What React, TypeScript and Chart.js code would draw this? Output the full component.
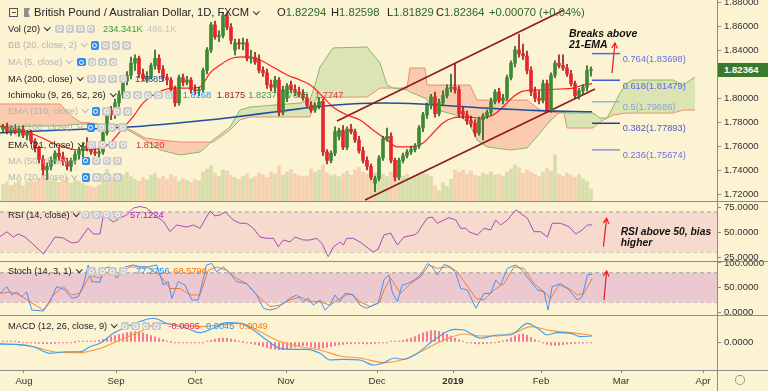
import React, { useEffect, useRef } from 'react';
import { Chart, registerables } from 'chart.js';
Chart.register(...registerables);

const FONT = '"Liberation Sans", Arial, Helvetica, sans-serif';
const BG = '#fcf3d2';
const LINE = '#8c8c8c';

// ---------------- DATA ----------------
const candleOpen = [1.774,1.776,1.772,1.775,1.771,1.774,1.769,1.771,1.764,1.758,
1.749,1.740,1.743,1.748,1.754,1.751,1.747,1.743,1.748,1.753,
1.756,1.760,1.758,1.755,1.754,1.755,1.771,1.790,1.786,1.796,
1.803,1.814,1.819,1.829,1.833,1.820,1.816,1.818,1.827,1.833,
1.824,1.817,1.815,1.807,1.796,1.817,1.813,1.815,1.807,1.806,
1.807,1.823,1.840,1.861,1.851,1.852,1.869,1.859,1.840,1.846,
1.845,1.846,1.833,1.834,1.832,1.823,1.821,1.811,1.809,1.815,
1.788,1.800,1.811,1.807,1.805,1.803,1.800,1.794,1.790,1.794,
1.797,1.755,1.748,1.754,1.768,1.773,1.759,1.774,1.772,1.765,
1.756,1.748,1.743,1.729,1.733,1.750,1.766,1.768,1.748,1.734,
1.748,1.752,1.755,1.757,1.760,1.775,1.786,1.794,1.801,1.787,
1.796,1.802,1.808,1.809,1.807,1.789,1.786,1.781,1.779,1.771,
1.782,1.785,1.788,1.797,1.805,1.798,1.800,1.817,1.829,1.840,
1.837,1.835,1.823,1.805,1.800,1.798,1.812,1.790,1.819,1.829,
1.827,1.825,1.820,1.812,1.802,1.806,1.809,1.82294];
const candleHigh = [1.778,1.779,1.777,1.778,1.776,1.777,1.773,1.773,1.766,1.760,
1.752,1.746,1.751,1.756,1.758,1.755,1.750,1.750,1.756,1.759,
1.763,1.767,1.760,1.758,1.757,1.773,1.792,1.793,1.799,1.806,
1.816,1.822,1.834,1.836,1.835,1.824,1.822,1.829,1.840,1.836,
1.827,1.820,1.817,1.810,1.819,1.820,1.818,1.817,1.811,1.809,
1.825,1.842,1.863,1.864,1.856,1.871,1.871,1.862,1.849,1.849,
1.850,1.849,1.840,1.838,1.836,1.826,1.824,1.815,1.818,1.817,
1.810,1.812,1.814,1.811,1.809,1.807,1.803,1.797,1.796,1.800,
1.799,1.757,1.756,1.776,1.775,1.777,1.776,1.778,1.774,1.768,
1.759,1.751,1.745,1.735,1.752,1.768,1.775,1.771,1.750,1.750,
1.754,1.757,1.760,1.762,1.777,1.788,1.796,1.803,1.805,1.799,
1.806,1.811,1.820,1.828,1.810,1.793,1.789,1.785,1.782,1.784,
1.787,1.790,1.800,1.807,1.808,1.803,1.819,1.831,1.843,1.853,
1.845,1.839,1.826,1.809,1.806,1.815,1.815,1.821,1.831,1.836,
1.836,1.828,1.823,1.814,1.808,1.811,1.827,1.82598];
const candleLow = [1.771,1.770,1.769,1.770,1.768,1.767,1.765,1.762,1.755,1.746,
1.736,1.732,1.740,1.745,1.748,1.744,1.740,1.739,1.745,1.749,
1.751,1.756,1.753,1.752,1.751,1.753,1.769,1.782,1.783,1.793,
1.800,1.811,1.816,1.823,1.817,1.814,1.813,1.816,1.824,1.821,
1.814,1.811,1.804,1.793,1.794,1.810,1.811,1.804,1.803,1.802,
1.805,1.820,1.838,1.849,1.847,1.850,1.857,1.845,1.836,1.841,
1.840,1.831,1.829,1.828,1.821,1.818,1.808,1.806,1.805,1.785,
1.786,1.797,1.805,1.802,1.801,1.798,1.792,1.788,1.788,1.791,
1.752,1.745,1.746,1.752,1.765,1.757,1.757,1.770,1.763,1.754,
1.746,1.740,1.732,1.722,1.731,1.748,1.764,1.746,1.731,1.732,
1.746,1.750,1.753,1.755,1.758,1.772,1.783,1.791,1.784,1.785,
1.794,1.800,1.805,1.804,1.784,1.783,1.778,1.776,1.768,1.769,
1.765,1.783,1.786,1.795,1.796,1.795,1.798,1.815,1.826,1.834,
1.832,1.820,1.802,1.797,1.795,1.796,1.788,1.788,1.817,1.825,
1.823,1.818,1.810,1.800,1.799,1.803,1.806,1.81829];
const candleClose = [1.776,1.772,1.775,1.771,1.774,1.769,1.771,1.764,1.758,1.749,
1.740,1.743,1.748,1.754,1.751,1.747,1.743,1.748,1.753,1.756,
1.760,1.758,1.755,1.754,1.755,1.771,1.790,1.786,1.796,1.803,
1.814,1.819,1.829,1.833,1.820,1.816,1.818,1.827,1.833,1.824,
1.817,1.815,1.807,1.796,1.817,1.813,1.815,1.807,1.806,1.807,
1.823,1.840,1.861,1.851,1.852,1.869,1.859,1.848,1.846,1.845,
1.846,1.833,1.834,1.830,1.823,1.821,1.811,1.809,1.815,1.788,
1.807,1.810,1.807,1.805,1.803,1.800,1.794,1.790,1.794,1.797,
1.755,1.748,1.754,1.772,1.773,1.759,1.774,1.772,1.765,1.756,
1.748,1.743,1.734,1.733,1.750,1.766,1.768,1.748,1.734,1.748,
1.752,1.755,1.757,1.760,1.775,1.786,1.794,1.801,1.787,1.796,
1.802,1.808,1.809,1.807,1.787,1.786,1.781,1.779,1.771,1.782,
1.785,1.788,1.797,1.805,1.798,1.800,1.817,1.829,1.840,1.837,
1.835,1.823,1.805,1.800,1.798,1.812,1.790,1.819,1.829,1.827,
1.825,1.820,1.812,1.802,1.806,1.809,1.8229,1.82364];

const volumeK = [320,380,300,350,410,290,360,420,380,450,520,470,390,430,360,400,460,350,420,380,340,300,280,260,310,
520,610,450,480,430,500,560,470,420,390,460,410,500,530,440,480,420,510,470,380,430,400,360,420,390,
560,620,680,540,480,600,580,500,450,420,480,520,430,470,540,510,460,560,520,680,500,560,610,530,490,
470,480,620,560,600,700,540,490,510,470,530,580,500,600,650,560,520,480,550,600,520,470,560,510,450,
480,520,460,500,540,560,520,480,300,200,350,280,420,600,560,600,520,580,500,470,540,510,560,500,520,
480,560,620,700,650,540,600,560,520,480,560,640,580,900,520,480,540,500,460,520,430,380,234];

const cloudX = [-0.75,9.25,14.25,16.75,19.25,24.25,29.25,32.5,35.5,39.25,44.25,49.25,51,52.5,56.75,59.25,61.75,74.25,76.75,78,79.25,82.5,91,94.25,96,97.5,101,101.75,105.5,106,108.5,114.25,116.75,118.5,121,126.75,131,134.25,137,139.25,140.25,141,147.5,149.25,151,152.5,154.25,156,157.5,167.5,170,173];
const spanA = [1.7758,1.7767,1.7767,1.7775,1.7783,1.7783,1.7775,1.7708,1.765,1.7567,1.7525,1.755,1.76,1.765,1.7758,1.79,1.7925,1.7958,1.7983,1.8108,1.8258,1.8417,1.8425,1.8292,1.8108,1.8083,1.8067,1.805,1.80,1.7983,1.79,1.785,1.7775,1.765,1.7592,1.7567,1.7583,1.7708,1.7817,1.7883,1.7883,1.7875,1.7875,1.7833,1.7833,1.7925,1.8042,1.8125,1.815,1.815,1.8108,1.8175];
const spanB = [1.795,1.795,1.795,1.7858,1.78,1.7783,1.7767,1.7725,1.7667,1.765,1.7633,1.7633,1.7633,1.7633,1.7733,1.7817,1.7842,1.7842,1.7842,1.7983,1.80,1.8008,1.8008,1.8083,1.8083,1.8083,1.8083,1.825,1.825,1.8108,1.8108,1.8108,1.8108,1.7983,1.7983,1.7983,1.7983,1.79,1.7883,1.7875,1.7875,1.775,1.775,1.78,1.7833,1.7858,1.7867,1.7875,1.7875,1.7875,1.79,1.79];

const ema21X = [-0.75,4.25,9.25,14.25,19.25,23.5,26.75,30,32.5,35,38.5,42.5,46.75,49.25,51.75,54.25,57.5,61,64.25,67.5,71,74.25,77.5,80,82.5,86,89.25,92.5,96,98.5,101.75,105,107.5,110,112.5,116,119.25,122.5,125,127.5,130,134.25,139.25,142.5,145,147.25];
const ema21Y = [1.7767,1.7733,1.7675,1.76,1.7567,1.7575,1.7625,1.775,1.7842,1.7958,1.8042,1.8083,1.8083,1.8092,1.8208,1.8275,1.8333,1.8342,1.8317,1.8258,1.8192,1.815,1.8092,1.8008,1.7925,1.7858,1.7817,1.7733,1.765,1.7592,1.7592,1.7625,1.7708,1.7792,1.7833,1.7842,1.7833,1.7858,1.7925,1.8008,1.8058,1.8067,1.8075,1.8083,1.8108,1.812];
const ma200X = [-0.75,16,32.5,49.25,57.5,69.25,82.5,95,104.25,120.25,134.25,147.25];
const ma200Y = [1.771,1.7735,1.776,1.781,1.784,1.789,1.794,1.7958,1.795,1.7917,1.7895,1.7885];

const channelUpperX = [83.5, 140.25];
const channelUpperY = [1.7808, 1.8733];
const channelLowerX = [90.5, 148];
const channelLowerY = [1.715, 1.8075];

const fibRatios = ['0.764', '0.618', '0.5', '0.382', '0.236'];
const fibLevels = [1.83698, 1.81479, 1.79686, 1.77893, 1.75674];
const fibSpan = [147.25, 154.25];

const rsiX = [-0.75,0.9,2.6,3.8,5.5,7.2,10.1,13,15.1,17.2,18.8,21.3,22.6,24.25,25.1,27.6,29.25,30.9,32.6,34.25,35.9,38.4,40.1,41.75,43.4,45.9,47.6,49.25,51.75,53,54.25,55.5,57.6,59.25,60.9,62.6,64.25,65.9,67.6,68.8,70.1,71.75,73,75.1,76.75,78.4,79.7,81.3,82.6,84.25,85.1,85.9,87.6,89.25,90.9,92.6,93.8,95.25,96.9,98.6,100.25,102.75,103.6,104.4,106.1,107.3,108.6,110.25,111.5,113.2,114.4,115.7,116.5,118.6,120.25,121.9,123.2,124.4,126.1,128.2,129.4,131.1,132.75,134.4,136.1,137.3,139.4,141.5,143.2,144.8,146.1,147.3];
const rsiY = [45.3,50.3,45,48,45,39,28,45,44,39,40,54,48,48,67,60,64,67,74,75.5,74,65.5,60.5,50.5,57,55,57,53.7,71,66,67,70,62,58.7,58.7,53.7,45,43.7,43.7,35.3,42,40,45,42,42,43.7,38.7,25.3,35,40,37,43.7,43.7,40,35,30,33,47,49,37,45,47,49,54,64,65,58.7,62,64.3,62,53.7,53.7,50.3,47,53.7,52,62,57,62,72,68.7,63.7,50.3,50.3,45,58.7,58.7,55.3,48,52,57,57.1];

const stochKX = [-0.75,0.9,2.2,3.4,4.7,5.9,7.2,10.1,11.75,13.4,15.5,17.2,18.8,20.1,21.3,22.2,24.25,25.1,26.75,28.4,30.5,32.6,34.25,36.3,38.4,40.1,41.3,42.2,43.8,45.5,47.2,48.8,50.1,50.9,52.2,53.4,55.1,56.75,58.4,60.9,63.4,65.1,66.75,68.4,70.1,71.75,73.4,75.1,76.3,77.6,79.25,80.5,81.75,83,84.25,85.5,87.6,89.25,90.9,92.6,93.8,95.25,96.5,97.3,98.6,99.8,101.1,102.75,104.4,106.1,107.3,108.6,110.25,111.9,113.2,114.4,116.1,118.2,120.25,121.9,123.2,124.4,126.1,128.2,129.8,131.9,133.6,135.25,136.25,137.3,139.4,141.5,143.6,144.8,146.1,147.3];
const stochKY = [38,51.7,34.7,41,31,41,4,2,21,51.7,45,28,31,55,96,62,61,89,92,69,92,96,92,92,96,55,62,28,62,55,24.5,24.5,69,96,99,82,92,79,62,58,34.7,7.5,4,7.5,17.7,28,34.7,21,28,14,24.5,4,14,34.7,21,38,34.7,14,7.5,14,17.7,66,75.5,41,21,55,58,65,75.5,99,92,75.5,97,92,79,48,45,7.5,38,38,65,55,89,96,85,62,45,41,4,51.7,58,45,24.5,31,75.5,77.3];
const stochDX = [-0.75,1.75,4.25,6.75,10.1,12.6,15.1,17.2,19.25,21.75,24.25,26.75,29.25,31.75,35.9,39.25,41.75,44.25,46.75,49.25,51.3,53.4,55.9,58.4,60.9,64.25,66.75,69.25,71.75,74.25,76.75,79.25,81.75,84.25,86.75,89.25,91.75,94.25,95.25,96.9,99.4,101.9,104.4,106.5,108.6,111.1,113.2,115.7,118.2,120.25,122.75,125.25,127.75,130.25,132.75,135.25,136.9,139,141.5,143.6,145.25,147.3];
const stochDY = [38,41,34.7,21,4,34.7,51.7,34.7,38,75,69,85,79,92,92,75,48,48,34.7,34.7,85,92,85,69,58,28,11,14,24.5,31,21,21,14,28,38,21,11,21,45,69,38,58,72,96,89,92,85,58,28,24.5,45,58,92,89,58,41,28,55,48,34.7,38,68.6];

const macdX = [-0.75,3.4,7.6,11.75,15.9,19.25,21.75,24.25,27.6,30.9,34.25,37.6,40.9,45.9,49.25,52.6,55.9,59.25,62.6,65.9,69.25,72.6,75.9,79.25,81.75,85.1,89.25,92.6,95.25,97.75,100.25,103.6,107.75,112.75,115.25,119.4,123.6,126.9,131.1,133.6,136.1,138.6,141.9,144.4,147.3];
const macdY = [-0.0017,-0.0018,-0.0035,-0.0085,-0.0073,-0.0073,-0.0035,-0.001,0.0065,0.0115,0.0153,0.0178,0.014,0.0103,0.007,0.0103,0.0145,0.014,0.009,0.0015,-0.0048,-0.0055,-0.0055,-0.0085,-0.0135,-0.013,-0.0135,-0.0173,-0.0155,-0.012,-0.013,-0.0085,0.0015,0.0095,0.009,0.0028,0.0053,0.0053,0.014,0.0103,0.0053,0.007,0.0065,0.004,0.0045];
const signalX = [-0.75,7.6,12.6,19.25,24.25,29.25,34.25,39.25,44.25,49.25,54.25,59.25,64.25,69.25,74.25,79.25,84.25,89.25,95.25,100.25,105.25,110.25,115.25,119.4,123.6,128.6,131.9,136.9,141.9,147.3];
const signalY = [-0.001,-0.0035,-0.0073,-0.008,-0.0048,0.0015,0.0078,0.014,0.0128,0.0115,0.0128,0.014,0.0078,0.0003,-0.0035,-0.006,-0.0105,-0.012,-0.0155,-0.013,-0.006,0.0015,0.006,0.0045,0.0045,0.0078,0.0115,0.0085,0.007,0.0049];
// histogram, in units of 0.0001
const macdHist4 = [1,1,0.5,0.5,0,-1,
-3,-5,-8,-11,-13,-13,-12,-10,-8,-6,-4,
-2,0,1,2,3,
5,8,12,18,28,38,
48,55,62,70,75,78,75,68,58,48,38,
28,18,8,0,-5,-6,-6,-5,
-5,-4,-3,-1,
5,12,20,27,30,28,22,14,
6,0,-5,-10,-18,
-26,-34,-42,-50,-55,-58,-57,-52,-45,-38,-32,-28,-30,-38,-45,-48,-45,-40,-35,
-28,-22,-18,-15,-12,-10,-10,-12,-14,-13,-10,-8,-5,
-2,1,3,6,12,20,30,
40,55,68,78,85,85,80,70,58,44,30,
16,6,-2,-8,-12,
-14,-12,-10,-8,-5,0,8,
18,32,46,56,60,50,34,
18,4,-8,-18,-24,-26,-24,-20,-16,-12,
-10,-9,-8,-6,-5];

const monthTickPos = [5.25, 28.25, 48, 70.75, 93.5, 112.5, 134.5, 154.5, 175];
const monthTickLabels = ['Aug', 'Sep', 'Oct', 'Nov', 'Dec', '2019', 'Feb', 'Mar', 'Apr'];
const priceTicks = [1.72, 1.74, 1.76, 1.78, 1.8, 1.82, 1.84, 1.86, 1.88];
const rsiTicks = [25, 50, 75];
const stochTicks = [0, 50, 100];
const macdTicks = [0];

// ---------------- helpers ----------------
const X_MIN = -0.75, X_MAX = 178.5;
const pts = (xs: number[], ys: number[]) => xs.map((x, i) => ({ x, y: ys[i] }));
const flat = (v: number) => [{ x: X_MIN, y: v }, { x: X_MAX, y: v }];

function xScale(show: boolean) {
  return {
    type: 'linear', min: X_MIN, max: X_MAX, display: show, offset: false,
    border: { display: false },
    grid: { display: show, offset: false, drawOnChartArea: false, drawTicks: true, tickLength: 3, color: LINE },
    ticks: {
      autoSkip: false, maxRotation: 0, minRotation: 0, padding: 3, color: '#333',
      font: (c: any) => ({ family: FONT, size: 9.6, weight: c.index === 5 ? 'bold' : 'normal' }),
      callback: (v: any) => { const j = monthTickPos.indexOf(Number(v)); return j >= 0 ? monthTickLabels[j] : ''; },
    },
    afterBuildTicks: (s: any) => { s.ticks = monthTickPos.map((v) => ({ value: v })); },
    afterFit: (s: any) => { if (show) { s.height = 21; } s.paddingLeft = 0; s.paddingRight = 0; },
  };
}
function yScale(min: number, max: number, ticks: number[], digits: number) {
  return {
    type: 'linear', position: 'right', min, max,
    border: { display: false },
    grid: { drawOnChartArea: false, drawTicks: true, tickLength: 4, color: LINE },
    ticks: { color: '#333', padding: 3, autoSkip: false, font: { family: FONT, size: 9.6 }, callback: (v: any) => Number(v).toFixed(digits) },
    afterBuildTicks: (s: any) => { s.ticks = ticks.map((v) => ({ value: v })); },
    afterFit: (s: any) => { s.width = 51; s.paddingTop = 0; s.paddingBottom = 0; },
  };
}
const lineDs = (data: any[], color: string, width = 1, extra: any = {}) => ({
  type: 'line', data, borderColor: color, borderWidth: width, pointRadius: 0, fill: false, tension: 0, ...extra,
});

const arrowPlugin = {
  id: 'arrows',
  afterDatasetsDraw(chart: any, _a: any, opts: any) {
    const items = (opts && opts.items) || [];
    const ctx = chart.ctx; const xs = chart.scales.x; const ys = chart.scales.y;
    items.forEach((a: any) => {
      const x1 = xs.getPixelForValue(a.x1), y1 = ys.getPixelForValue(a.y1);
      const x2 = xs.getPixelForValue(a.x2), y2 = ys.getPixelForValue(a.y2);
      ctx.save();
      ctx.strokeStyle = '#f01818'; ctx.lineWidth = 1.2;
      ctx.beginPath(); ctx.moveTo(x1, y1); ctx.lineTo(x2, y2); ctx.stroke();
      const ang = Math.atan2(y2 - y1, x2 - x1); const L = 6;
      ctx.beginPath();
      ctx.moveTo(x2 - L * Math.cos(ang - 0.5), y2 - L * Math.sin(ang - 0.5));
      ctx.lineTo(x2, y2);
      ctx.lineTo(x2 - L * Math.cos(ang + 0.5), y2 - L * Math.sin(ang + 0.5));
      ctx.stroke();
      ctx.restore();
    });
  },
};

function baseOptions(padTop: number, padBottom: number, scales: any, arrows: any[] = []) {
  return {
    responsive: false, animation: false, devicePixelRatio: 1, events: [],
    layout: { padding: { top: padTop, bottom: padBottom, left: 0, right: 0 }, autoPadding: false },
    plugins: { legend: { display: false }, tooltip: { enabled: false }, arrows: { items: arrows } },
    scales,
  };
}

function mainConfig(): any {
  const up = (i: number) => candleClose[i] >= candleOpen[i];
  const fibColors = ['#5668e6', '#4659dc', '#93b4e8', '#2b3a9c', '#8f8fd8'];
  return {
    type: 'bar',
    data: {
      datasets: [
        { type: 'bar', yAxisID: 'yVol', data: volumeK.map((v, i) => ({ x: i, y: v })), backgroundColor: volumeK.map((_, i) => (up(i) ? 'rgba(120,170,70,0.28)' : 'rgba(235,120,95,0.28)')), barThickness: 3, grouped: false, order: 20 },
        lineDs(pts(cloudX, spanA), '#86b86a', 1, { order: 15, fill: { target: 2, above: 'rgba(150,195,110,0.30)', below: 'rgba(245,130,110,0.35)' } }),
        lineDs(pts(cloudX, spanB), '#ef8a78', 1, { order: 15 }),
        lineDs(pts(ma200X, ma200Y), '#1d4f9e', 1.6, { order: 6, cubicInterpolationMode: 'monotone' }),
        lineDs(pts(ema21X, ema21Y), '#ff1c1c', 1.2, { order: 6, cubicInterpolationMode: 'monotone' }),
        lineDs(pts(channelUpperX, channelUpperY), '#8e1b1b', 1.6, { order: 4 }),
        lineDs(pts(channelLowerX, channelLowerY), '#8e1b1b', 1.6, { order: 4 }),
        ...fibLevels.map((lv, i) => lineDs([{ x: fibSpan[0], y: lv }, { x: fibSpan[1], y: lv }], fibColors[i], 1.5, { order: 4 })),
        { type: 'bar', data: candleClose.map((_, i) => ({ x: i, y: [candleLow[i], candleHigh[i]] })), backgroundColor: candleClose.map((_, i) => (up(i) ? '#2a6426' : '#9e1a1a')), barThickness: 1, grouped: false, order: 2 },
        { type: 'bar', data: candleClose.map((c, i) => ({ x: i, y: [candleOpen[i], c] })), backgroundColor: candleClose.map((_, i) => (up(i) ? '#3d8a34' : '#e5262b')), barThickness: 3, minBarLength: 1, grouped: false, order: 1 },
      ],
    },
    options: baseOptions(0, 190, {
      x: xScale(false),
      y: yScale(1.714167, 1.881667, priceTicks, 5),
      yVol: { type: 'linear', display: false, min: 0, max: 3900 },
    }, [{ x1: 152.25, y1: 1.8208, x2: 153, y2: 1.8458 }]),
    plugins: [arrowPlugin],
  };
}

function rsiConfig(): any {
  const dash = { borderDash: [4, 3] };
  return {
    type: 'line',
    data: {
      datasets: [
        lineDs(flat(70), '#a29d98', 1, { ...dash, fill: '+1', backgroundColor: '#f6dacd', order: 10 }),
        lineDs(flat(30), '#a29d98', 1, { ...dash, order: 10 }),
        lineDs(pts(rsiX, rsiY), '#a54cbd', 1, { order: 1 }),
      ],
    },
    options: baseOptions(202, 130, { x: xScale(false), y: yScale(21, 80, rsiTicks, 4) },
      [{ x1: 150.1, y1: 35.3, x2: 150.9, y2: 63.7 }]),
    plugins: [arrowPlugin],
  };
}

function stochConfig(): any {
  const dash = { borderDash: [4, 3] };
  return {
    type: 'line',
    data: {
      datasets: [
        lineDs(flat(80), '#a29d98', 1, { ...dash, fill: '+1', backgroundColor: '#ecc8d1', order: 10 }),
        lineDs(flat(20), '#a29d98', 1, { ...dash, order: 10 }),
        lineDs(pts(stochDX, stochDY), '#f47a3a', 1, { order: 2 }),
        lineDs(pts(stochKX, stochKY), '#4a8ff2', 1, { order: 1 }),
      ],
    },
    options: baseOptions(262, 76, { x: xScale(false), y: yScale(-6.12, 102.04, stochTicks, 4) },
      [{ x1: 150.25, y1: 24.5, x2: 150.9, y2: 83.7 }]),
    plugins: [arrowPlugin],
  };
}

function macdConfig(): any {
  return {
    type: 'bar',
    data: {
      datasets: [
        { type: 'bar', data: macdHist4.map((v, i) => ({ x: i, y: v / 10000 })), backgroundColor: '#f2628c', barThickness: 1, minBarLength: 1, grouped: false, order: 5 },
        lineDs(pts(signalX, signalY), '#f79a3c', 1.1, { order: 2, cubicInterpolationMode: 'monotone' }),
        lineDs(pts(macdX, macdY), '#3fa0f0', 1.1, { order: 1, cubicInterpolationMode: 'monotone' }),
      ],
    },
    options: baseOptions(316, 0, { x: xScale(true), y: yScale(-0.021, 0.0195, macdTicks, 4) }),
  };
}

// ---------------- HTML overlays ----------------
function T(p: any) {
  const s = p.s || 9.3;
  const lh = Math.ceil(s * 1.3);
  return (
    <div style={{ position: 'absolute', left: p.x, top: p.y - lh / 2, fontSize: s, lineHeight: lh + 'px', color: p.c || '#222', fontWeight: p.b ? 'bold' : 'normal', fontStyle: p.i ? 'italic' : 'normal', whiteSpace: 'nowrap', fontFamily: FONT }}>
      {p.children}
    </div>
  );
}
const Chev = () => (
  <span style={{ display: 'inline-block', width: 3.5, height: 3.5, borderRight: '1px solid currentColor', borderBottom: '1px solid currentColor', transform: 'rotate(45deg)', marginLeft: 5, position: 'relative', top: -2.5 }} />
);
function Icons(p: any) {
  const n = p.n || 4;
  const out: any[] = [];
  for (let i = 0; i < n; i++) {
    const blue = p.blue && i === 0;
    out.push(
      <div key={i} style={{ position: 'absolute', left: p.x + i * 10.5, top: p.y - 4.5, width: 8.5, height: 8.5, borderRadius: 2, background: blue ? '#2d8ff0' : '#cacaca', display: 'flex', alignItems: 'center', justifyContent: 'center' }}>
        <div style={{ width: 3, height: 3, borderRadius: '50%', border: '1px solid #fff' }} />
      </div>
    );
  }
  return <>{out}</>;
}
const Row = (p: any) => (
  <>
    <T x={8} y={p.y} c={p.dim ? '#b3b3b3' : '#222'}>{p.label}<Chev /></T>
    <Icons x={p.ix} y={p.y} n={p.n} blue={p.dim} />
  </>
);

const HLine = (p: any) => <div style={{ position: 'absolute', left: 0, top: p.y, width: 768, height: 1, background: LINE }} />;

export default function App() {
  const r0 = useRef<HTMLCanvasElement>(null);
  const r1 = useRef<HTMLCanvasElement>(null);
  const r2 = useRef<HTMLCanvasElement>(null);
  const r3 = useRef<HTMLCanvasElement>(null);
  useEffect(() => {
    document.body.style.margin = '0';
    const charts = [
      new Chart(r0.current as any, mainConfig()),
      new Chart(r1.current as any, rsiConfig()),
      new Chart(r2.current as any, stochConfig()),
      new Chart(r3.current as any, macdConfig()),
    ];
    return () => charts.forEach((c) => c.destroy());
  }, []);
  const cv = { position: 'absolute' as const, left: 0, top: 0 };
  const G = '#2a6a2a';
  const fibText = ['#6470e6', '#5d66dc', '#80a6e0', '#5257cf', '#6f70e0'];
  const fibY = [59.3, 86, 107.3, 128.3, 155];
  return (
    <div style={{ position: 'fixed', left: 0, top: 0, width: 768, height: 391, background: BG, overflow: 'hidden', fontFamily: FONT }}>
      <canvas ref={r0} width={768} height={391} style={cv} />
      <canvas ref={r1} width={768} height={391} style={cv} />
      <canvas ref={r2} width={768} height={391} style={cv} />
      <canvas ref={r3} width={768} height={391} style={cv} />
      <HLine y={201} />
      <HLine y={261} />
      <HLine y={315} />
      <HLine y={370} />
      <div style={{ position: 'absolute', left: 717, top: 0, width: 1, height: 391, background: LINE }} />

      {/* title row */}
      <div style={{ position: 'absolute', left: 9, top: 8, width: 7, height: 7, border: '1px solid #555' }}>
        <div style={{ position: 'absolute', left: 1.5, top: 3, width: 4, height: 1, background: '#555' }} />
      </div>
      <div style={{ position: 'absolute', left: 24, top: 8, width: 6, height: 9, background: '#8f8f8f', clipPath: 'polygon(0 0,100% 0,70% 50%,100% 100%,0 100%)' }} />
      <T x={34} y={12.7} s={11.2} c="#222">British Pound / Australian Dollar, 1D, FXCM<Chev /></T>
      <T x={277} y={12.7} s={11.2} c="#222">O<span style={{ color: G }}>1.82294</span></T>
      <T x={331} y={12.7} s={11.2} c="#222">H<span style={{ color: G }}>1.82598</span></T>
      <T x={387} y={12.7} s={11.2} c="#222">L<span style={{ color: G }}>1.81829</span></T>
      <T x={436} y={12.7} s={11.2} c="#222">C<span style={{ color: G }}>1.82364</span></T>
      <T x={489} y={12.7} s={11.2} c={G}>+0.00070 (+0.04%)</T>

      <Row y={29} label="Vol (20)" ix={55} />
      <T x={103} y={29} c="#3c9a3c">234.341K</T>
      <T x={147} y={29} c="#c4c4c4">486.1K</T>
      <Row y={45.7} label="BB (20, close, 2)" ix={90.7} dim />
      <Row y={62.3} label="MA (5, close)" ix={77.3} dim />
      <Row y={79} label="MA (200, close)" ix={87.3} />
      <T x={135} y={79} c="#1d4f9e">1.7885</T>
      <Row y={95.3} label="Ichimoku (9, 26, 52, 26)" ix={122.7} n={5} />
      <T x={182.7} y={95.3} c="#2196f3">1.8168</T>
      <T x={216.7} y={95.3} c="#8b1d1d">1.8175</T>
      <T x={248.3} y={95.3} c="#3f9b3f">1.8237</T>
      <T x={280} y={95.3} c="#3f9b3f">1.7868</T>
      <T x={315} y={95.3} c="#e03a3a">1.7747</T>
      <Row y={111.7} label="EMA (110, close)" ix={91.7} dim />
      <Row y={127.7} label="MA (100, close)" ix={86.7} dim />
      <Row y={145} label="EMA (21, close)" ix={87.3} />
      <T x={136} y={145} c="#f02020">1.8120</T>
      <Row y={161} label="MA (50, close)" ix={81.7} dim />
      <Row y={177.7} label="MA (20, close)" ix={81.7} dim />

      <Row y={215} label="RSI (14, close)" ix={81.7} />
      <T x={130} y={215} c="#9c27b0">57.1224</T>
      <Row y={271.7} label="Stoch (14, 3, 1)" ix={87.3} />
      <T x={136} y={271.7} c="#2196f3">77.2756</T>
      <T x={173.3} y={271.7} c="#ff6d00">68.5796</T>
      <Row y={326.3} label="MACD (12, 26, close, 9)" ix={120.7} />
      <T x={168.3} y={326.3} c="#f0245a">-0.0005</T>
      <T x={206} y={326.3} c="#2196f3">0.0045</T>
      <T x={239.3} y={326.3} c="#ff7a00">0.0049</T>

      {/* fib labels */}
      {fibRatios.map((r, i) => (
        <T key={r} x={622.7} y={fibY[i]} c={fibText[i]}>{r}({fibLevels[i].toFixed(5)})</T>
      ))}

      {/* annotations */}
      <T x={569} y={33.3} s={10.5} b i c="#111">Breaks above</T>
      <T x={569} y={43.8} s={10.5} b i c="#111">21-EMA</T>
      <T x={620.7} y={231.7} s={10.3} b i c="#111">RSI above 50, bias</T>
      <T x={620.7} y={243.3} s={10.3} b i c="#111">higher</T>

      {/* last price tag */}
      <div style={{ position: 'absolute', left: 718, top: 62.6, width: 50, height: 14, background: '#3b7a2b' }} />
      <T x={724} y={69.6} s={9.6} b c="#ffffff">1.82364</T>

      {/* settings gear */}
      <div style={{ position: 'absolute', left: 735, top: 375, width: 8, height: 8, borderRadius: '50%', border: '1.5px dotted #444' }} />
    </div>
  );
}
